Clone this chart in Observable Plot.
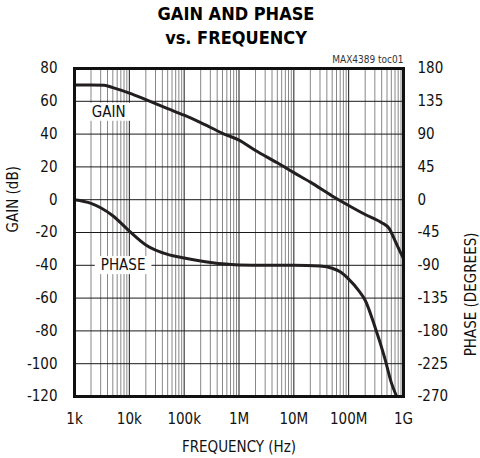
<!DOCTYPE html>
<html><head><meta charset="utf-8">
<script src="https://cdn.jsdelivr.net/npm/d3@7"></script>
<script src="https://cdn.jsdelivr.net/npm/@observablehq/plot@0.6"></script>
<style>
html,body{margin:0;padding:0;background:#fff;}
#chart svg{display:block;}
#chart svg text{font-stretch:condensed;}
</style></head><body><div id="chart"></div>
<script>
const FONT = '"DejaVu Sans Condensed","DejaVu Sans",sans-serif';

// tick values and labels
const xTickValues = [1e3, 1e4, 1e5, 1e6, 1e7, 1e8, 1e9];
const xTickLabels = ["1k", "10k", "100k", "1M", "10M", "100M", "1G"];
const gainTicks = [-120, -100, -80, -60, -40, -20, 0, 20, 40, 60, 80];
const phaseTickLabels = ["-270", "-225", "-180", "-135", "-90", "-45", "0", "45", "90", "135", "180"];
const DEG_PER_DB = 2.25; // right axis: 450 degrees span over 200 dB

// gain curve
const gainFreq = [1e3, 2e3, 3.5e3, 5e3, 1e4, 2e4, 5e4, 1e5, 2e5, 5e5, 1e6, 2e6, 5e6, 1e7, 2e7, 5e7, 1e8, 2e8, 4e8, 5.5e8, 7e8, 8.5e8, 1e9];
const gainDb   = [70, 70, 69.8, 68.3, 65, 61, 55.5, 51.5, 47, 40.5, 36.3, 30, 22.5, 16.5, 10.7, 2.3, -3.5, -9, -14, -17.6, -25, -31, -36];

// phase curve (degrees)
const phaseFreq = [1e3, 2e3, 3e3, 5e3, 1e4, 2e4, 5e4, 1e5, 2e5, 5e5, 1e6, 3e6, 1e7, 3e7, 5e7, 7e7, 1e8, 1.5e8, 2e8, 3e8, 4.5e8, 6e8, 7.5e8];
const phaseDeg  = [0, -5, -11, -22, -43, -62, -75, -80, -84, -88, -89.5, -90, -90, -91, -94, -99, -109, -124, -138, -174, -216, -251, -270];

// curve labels
const labelTexts = ["GAIN", "PHASE"];
const labelFreq = [4.2e3, 7.7e3];
const labelDb = [53.5, -40];

const gain = gainFreq.map((f, i) => ({f, v: gainDb[i]}));
const phase = phaseFreq.map((f, i) => ({f, v: phaseDeg[i] / DEG_PER_DB}));
const labels = labelTexts.map((t, i) => ({t, f: labelFreq[i], v: labelDb[i]}));

const minorTicks = [];
for (let d = 3; d < 9; d++) for (let k = 2; k <= 9; k++) minorTicks.push(k * Math.pow(10, d));

const plot = Plot.plot({
  width: 480, height: 458,
  marginTop: 68, marginLeft: 74, marginRight: 77, marginBottom: 62,
  style: {fontFamily: FONT, fontSize: "15px", color: "#111", background: "white"},
  x: {type: "log", domain: [1e3, 1e9]},
  y: {domain: [-120, 80]},
  marks: [
    Plot.ruleX(minorTicks, {stroke: "#888", strokeWidth: 1}),
    Plot.ruleX(xTickValues, {stroke: "#1a1a1a", strokeWidth: 1}),
    Plot.ruleY(gainTicks, {stroke: "#1a1a1a", strokeWidth: 1}),
    Plot.text(labels, {x: "f", y: "v", text: "t", fontSize: 15, fill: "#111", className: "curve-label"}),
    Plot.line(gain, {x: "f", y: "v", stroke: "#231f20", strokeWidth: 3, curve: "monotone-x"}),
    Plot.line(phase, {x: "f", y: "v", stroke: "#231f20", strokeWidth: 3, curve: "monotone-x"}),
    Plot.frame({stroke: "#111", strokeWidth: 3}),
    Plot.axisX(xTickValues, {tickSize: 0, tickPadding: 17, fontSize: 15,
      tickFormat: d => xTickLabels[xTickValues.indexOf(d)], label: null}),
    Plot.axisY(gainTicks, {anchor: "left", tickSize: 0, tickPadding: 17, fontSize: 15,
      tickFormat: d => String(d), label: null}),
    Plot.axisY(gainTicks, {anchor: "right", tickSize: 0, tickPadding: 14, fontSize: 15,
      tickFormat: d => phaseTickLabels[gainTicks.indexOf(d)], label: null}),
    Plot.text(["FREQUENCY (Hz)"], {frameAnchor: "bottom", lineAnchor: "middle", dy: 51, fontSize: 15, fill: "#111"}),
    Plot.text(["GAIN (dB)"], {frameAnchor: "left", dx: -61, rotate: -90, fontSize: 15, fill: "#111"}),
    Plot.text(["PHASE (DEGREES)"], {frameAnchor: "right", dx: 68, rotate: -90, fontSize: 15, fill: "#111"}),
    Plot.text(["GAIN AND PHASE\nvs. FREQUENCY"], {frameAnchor: "top", lineAnchor: "middle", dy: -44, dx: -3, fontSize: 18, fontWeight: "bold", lineHeight: 1.33, fill: "#000"}),
    Plot.text(["MAX4389 toc01"], {frameAnchor: "top-right", lineAnchor: "middle", textAnchor: "end", dy: -9, fontSize: 10, fill: "#333"})
  ]
});
document.getElementById("chart").appendChild(plot);

// white boxes behind curve labels (gridlines interrupted)
plot.querySelectorAll(".curve-label text").forEach(t => {
  const b = t.getBBox();
  const r = document.createElementNS("http://www.w3.org/2000/svg", "rect");
  r.setAttribute("x", b.x - 6);
  r.setAttribute("y", b.y);
  r.setAttribute("width", b.width + 12);
  r.setAttribute("height", b.height);
  r.setAttribute("fill", "white");
  if (t.getAttribute("transform")) r.setAttribute("transform", t.getAttribute("transform"));
  t.parentNode.insertBefore(r, t);
});
</script></body></html>
